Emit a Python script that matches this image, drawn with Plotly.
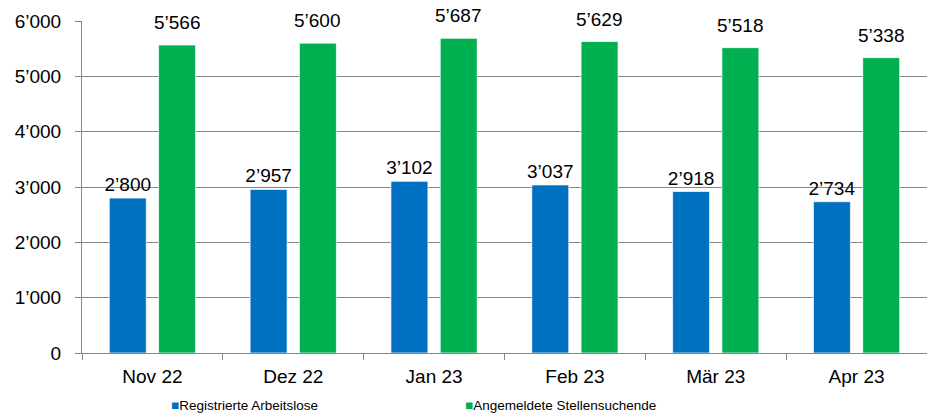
import plotly.graph_objects as go

categories = ["Nov 22", "Dez 22", "Jan 23", "Feb 23", "Mär 23", "Apr 23"]
arbeitslose = [2800, 2957, 3102, 3037, 2918, 2734]
stellensuchende = [5566, 5600, 5687, 5629, 5518, 5338]
series_names = ["Registrierte Arbeitslose", "Angemeldete Stellensuchende"]
y_ticks = [0, 1000, 2000, 3000, 4000, 5000, 6000]

BLUE = "#0070C0"
GREEN = "#00B050"
FONT = "Liberation Sans, Arial, sans-serif"
FS = 19


def fmt(v):
    return f"{v:,}".replace(",", "\u2019")


fig = go.Figure()
fig.add_trace(go.Bar(
    x=categories, y=arbeitslose, name=series_names[0],
    marker=dict(color=BLUE, line=dict(color="rgba(255,255,255,0.7)", width=1)),
    text=[fmt(v) for v in arbeitslose], textposition="outside",
    textfont=dict(family=FONT, size=FS, color="black"),
    constraintext="none", cliponaxis=False, showlegend=False,
))
fig.add_trace(go.Bar(
    x=categories, y=stellensuchende, name=series_names[1],
    marker=dict(color=GREEN, line=dict(color="rgba(255,255,255,0.7)", width=1)),
    showlegend=False,
))

# labels for green bars, slightly higher above bar top (as in the reference)
annots = []
for c, v in zip(categories, stellensuchende):
    annots.append(dict(
        x=c, y=v, xref="x", yref="y", xanchor="center", yanchor="bottom",
        xshift=24.7, yshift=10, showarrow=False,
        text=fmt(v), font=dict(family=FONT, size=FS, color="black"),
    ))

annots += [
    dict(x=0.103, y=-0.157, xref="paper", yref="paper", xanchor="left", yanchor="middle",
         showarrow=False, font=dict(size=13.5, family=FONT),
         text=f"<span style='color:{BLUE}'>■</span>{series_names[0]}"),
    dict(x=0.451, y=-0.157, xref="paper", yref="paper", xanchor="left", yanchor="middle",
         showarrow=False, font=dict(size=13.5, family=FONT),
         text=f"<span style='color:{GREEN}'>■</span>{series_names[1]}"),
]

fig.update_layout(
    width=927, height=415,
    margin=dict(l=82, r=0, t=21, b=62),
    plot_bgcolor="white", paper_bgcolor="white",
    barmode="group", bargap=0.3, bargroupgap=0.25,
    font=dict(family=FONT, size=FS, color="black"),
    xaxis=dict(
        showline=True, linecolor="#868686", linewidth=1,
        ticks="outside", tickson="boundaries", ticklen=6, tickcolor="#868686",
        tickfont=dict(size=FS), ticklabelstandoff=6,
    ),
    yaxis=dict(
        range=[0, 6000], tickvals=y_ticks, ticktext=[fmt(v) for v in y_ticks],
        showline=True, linecolor="#868686", linewidth=1,
        showgrid=True, gridcolor="#868686", gridwidth=1,
        ticks="outside", ticklen=6, tickcolor="#868686",
        tickfont=dict(size=FS), ticklabelstandoff=10, zeroline=False,
    ),
    annotations=annots,
)

fig.write_html(
    "out.html",
    config={"displayModeBar": False},
    post_script="document.body.style.margin='0';document.body.style.overflow='hidden';",
)
